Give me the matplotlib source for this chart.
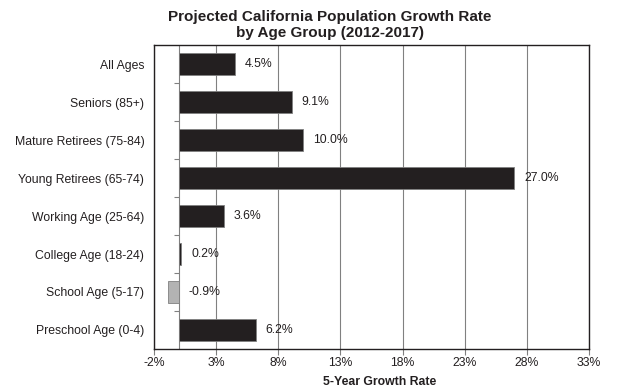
import numpy as np
import matplotlib.pyplot as plt

plt.rcParams['font.family'] = ['Liberation Sans', 'DejaVu Sans']

groups = ['All Ages', 'Seniors (85+)', 'Mature Retirees (75-84)', 'Young Retirees (65-74)',
          'Working Age (25-64)', 'College Age (18-24)', 'School Age (5-17)', 'Preschool Age (0-4)']
rates = [4.5, 9.1, 10.0, 27.0, 3.6, 0.2, -0.9, 6.2]
xticks = [-2, 3, 8, 13, 18, 23, 28, 33]

fig = plt.figure(figsize=(6.17, 3.87), dpi=100)
ax = fig.add_axes([0.2496, 0.0982, 0.705, 0.7855])

y = np.arange(len(groups))
colors = ['#231f20' if r >= 0 else '#b3b3b3' for r in rates]
ax.barh(y, rates, height=0.58, color=colors, edgecolor='#808080', linewidth=0.6, zorder=3)

for yi, r in zip(y, rates):
    ax.annotate('%.1f%%' % r, (max(r, 0), yi), xytext=(7, 0), textcoords='offset points',
                va='center', ha='left', fontsize=8.8, color='#231f20', zorder=4)

ax.set_xlim(-2, 33)
ax.set_ylim(len(groups) - 0.5, -0.5)
ax.set_xticks(xticks)
ax.set_xticklabels(['%d%%' % t for t in xticks], fontsize=8.8)
ax.set_yticks(y)
ax.set_yticklabels(groups, fontsize=8.8, color='#231f20')
ax.tick_params(axis='y', length=0, pad=7)
ax.tick_params(axis='x', length=4, color='#808080', pad=2, labelcolor='#231f20')
ax.grid(axis='x', color='#808080', linewidth=0.8, zorder=0)

# zero axis with small category ticks
ax.axvline(0, color='#808080', linewidth=0.8, zorder=2)
ax.hlines(y[:-1] + 0.5, -0.4, 0, color='#808080', linewidth=0.8, zorder=2)

for s in ax.spines.values():
    s.set_color('#231f20')
    s.set_linewidth(1.0)

fig.text(0.535, 0.975, 'Projected California Population Growth Rate\nby Age Group (2012-2017)',
         ha='center', va='top', fontsize=11, fontweight='bold', color='#231f20', linespacing=1.2)
fig.text(0.616, 0.014, '5-Year Growth Rate', ha='center', va='center',
         fontsize=8.8, fontweight='bold', color='#231f20')

fig.savefig('out.png', dpi=100)
